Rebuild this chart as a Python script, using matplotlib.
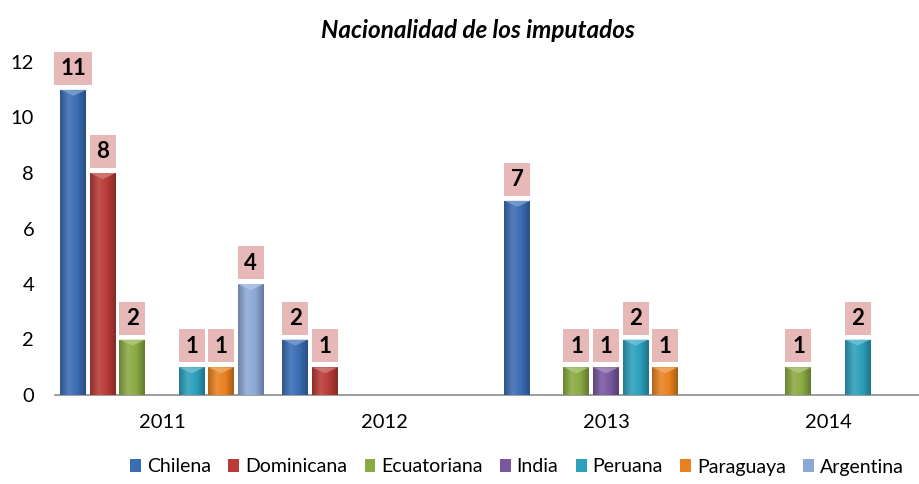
import matplotlib
matplotlib.use("Agg")
import matplotlib.pyplot as plt
import matplotlib.transforms as mtransforms
import numpy as np
from matplotlib.colors import LinearSegmentedColormap, to_rgb
from matplotlib.patches import Patch, Rectangle

plt.rcParams['font.family'] = ['Lato', 'DejaVu Sans']

years = ["2011", "2012", "2013", "2014"]
series = ["Chilena", "Dominicana", "Ecuatoriana", "India", "Peruana", "Paraguaya", "Argentina"]
chilena = [11, 2, 7, 0]
dominicana = [8, 1, 0, 0]
ecuatoriana = [2, 0, 1, 1]
india = [0, 0, 1, 0]
peruana = [1, 0, 2, 2]
paraguaya = [1, 0, 1, 0]
argentina = [4, 0, 0, 0]
values = [chilena, dominicana, ecuatoriana, india, peruana, paraguaya, argentina]
colors = ["#3A6DB4", "#B83B37", "#8BAA42", "#7A58A0", "#2CA0BC", "#E8811F", "#8CA9D6"]

W, H = 920, 484
DPI = 100
fig = plt.figure(figsize=(W/DPI, H/DPI), dpi=DPI)
ax = fig.add_axes([55/W, (H-395)/H, (920-55)/W, (395-62)/H])

def shade(c, f):
    r = np.array(to_rgb(c))
    if f < 1:
        return tuple(r * f)
    return tuple(r + (1 - r) * (f - 1))

step = 0.133
width = 0.117
x = np.arange(len(years))
n = len(series)
ax.set_xlim((55 - 162) / 222, (920 - 162) / 222)
ax.set_ylim(0, 12)
for i, (name, vals, col) in enumerate(zip(series, values, colors)):
    offs = x + (i - (n - 1) / 2) * step
    cmap = LinearSegmentedColormap.from_list(
        name, [shade(col, 0.78), shade(col, 1.12), shade(col, 1.0), shade(col, 0.72)])
    grad = np.linspace(0, 1, 64).reshape(1, -1)
    for xo, v in zip(offs, vals):
        if v <= 0:
            continue
        rect = ax.bar(xo, v, width=width, color=col, edgecolor="none", zorder=2)[0]
        im = ax.imshow(grad, extent=[xo - width/2, xo + width/2, 0, v], aspect='auto',
                       cmap=cmap, zorder=3, interpolation='bicubic')
        im.set_clip_path(rect)
        tri = plt.Polygon([[xo - width/2, v], [xo + width/2, v], [xo, v - 0.22]],
                          closed=True, facecolor=shade(col, 1.35), edgecolor='none',
                          alpha=0.8, zorder=4)
        ax.add_patch(tri)
        trans = fig.dpi_scale_trans + mtransforms.ScaledTranslation(xo, v, ax.transData)
        txt = str(v)
        bw = 14 + 12 * len(txt)
        box = Rectangle((-bw / 2 / DPI, 5 / DPI), bw / DPI, 33 / DPI, transform=trans,
                        facecolor='#E6B9B8', edgecolor='none', zorder=5, clip_on=False)
        ax.add_patch(box)
        ax.text(0, (5 + 16) / DPI, txt, transform=trans, ha='center', va='center',
                fontsize=16, fontweight='bold', color='black', zorder=6, clip_on=False)

ax.set_xlim((55 - 162) / 222, (920 - 162) / 222)
ax.set_ylim(0, 12)
ax.set_yticks(range(0, 13, 2))
ax.set_xticks(x)
ax.set_xticklabels(years)
for s in ["top", "right", "left"]:
    ax.spines[s].set_visible(False)
ax.spines["bottom"].set_color("#8C8C8C")
ax.spines["bottom"].set_linewidth(1.2)
ax.tick_params(axis='y', length=0, pad=15, labelsize=14.5)
ax.tick_params(axis='x', length=0, pad=14, labelsize=14.5)

fig.text(478/W, 1 - 30/H, "Nacionalidad de los imputados", ha='center', va='center',
         fontsize=17.5, fontweight='bold', fontstyle='italic')

handles = [Patch(facecolor=c, edgecolor='none') for c in colors]
fig.legend(handles, series, loc='center', bbox_to_anchor=(517/W, 1 - 467/H), ncol=7,
           frameon=False, fontsize=14, handlelength=0.55, handleheight=0.65,
           handletextpad=0.3, columnspacing=0.9)

fig.savefig("out.png", dpi=DPI)
